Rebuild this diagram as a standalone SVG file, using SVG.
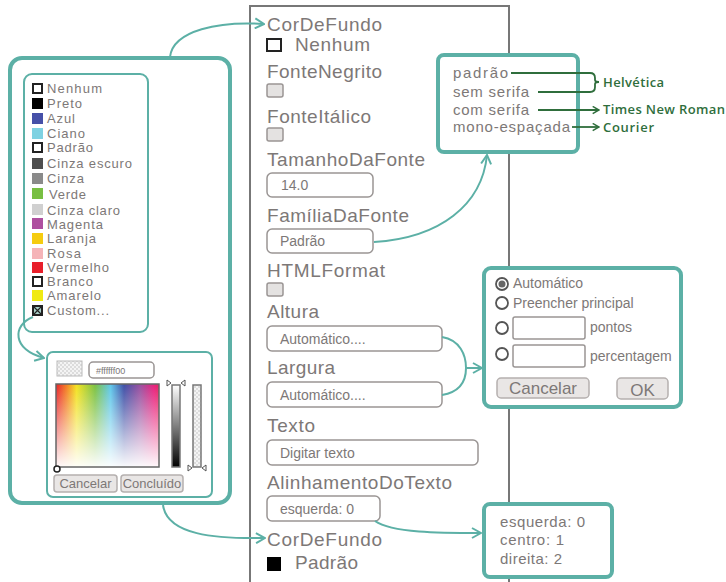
<svg xmlns="http://www.w3.org/2000/svg" width="726" height="582" viewBox="0 0 726 582">
<defs>
<style>
.t{font-family:"Liberation Sans",Arial,sans-serif;fill:#7d7877}
.lbl{font-size:19px}
.sm{font-size:14px}
.li{font-size:13px}
.box{fill:#fff;stroke:#5cb0a6;stroke-width:4}
.thin{fill:#fff;stroke:#5cb0a6;stroke-width:2}
.fld{fill:#fff;stroke:#9a9594;stroke-width:1.5}
.chk{fill:#e4e2e1;stroke:#9a9594;stroke-width:1.5}
.btn{fill:#e9e6e5;stroke:#b5b0af;stroke-width:1.5}
.con{fill:none;stroke:#5cb0a6;stroke-width:2}
.ann{fill:none;stroke:#2f6e3c;stroke-width:1.8}
.annt{font-family:"Open Sans","Noto Sans",sans-serif;font-weight:600;font-size:13px;fill:#2f6e3c}
.ow{fill:#fff;stroke:#222;stroke-width:2}
.rad{fill:#fff;stroke:#555;stroke-width:1.8}
.tri{fill:#fff;stroke:#555;stroke-width:1}
</style>
<marker id="arr" viewBox="0 0 12 12" refX="11" refY="6" markerWidth="12" markerHeight="12" markerUnits="userSpaceOnUse" orient="auto"><path d="M2,1 L11,6 L2,11" fill="none" stroke="#5cb0a6" stroke-width="2"/></marker>
<marker id="garr" viewBox="0 0 10 10" refX="9" refY="5" markerWidth="9" markerHeight="9" markerUnits="userSpaceOnUse" orient="auto"><path d="M2,1 L9,5 L2,9" fill="none" stroke="#2f6e3c" stroke-width="1.6"/></marker>
<pattern id="chkr" width="4" height="4" patternUnits="userSpaceOnUse"><rect width="4" height="4" fill="#f4f4f4"/><rect width="2" height="2" fill="#dcdcdc"/><rect x="2" y="2" width="2" height="2" fill="#dcdcdc"/></pattern>
<linearGradient id="hue" x1="0" y1="0" x2="1" y2="0">
<stop offset="0" stop-color="#e8202a"/><stop offset="0.1" stop-color="#f27d22"/><stop offset="0.2" stop-color="#f3e21e"/><stop offset="0.38" stop-color="#7bc142"/><stop offset="0.53" stop-color="#5ec7ea"/><stop offset="0.66" stop-color="#3f4fa6"/><stop offset="0.82" stop-color="#9b4f9f"/><stop offset="0.95" stop-color="#e8217d"/><stop offset="1" stop-color="#e62064"/>
</linearGradient>
<linearGradient id="fade" x1="0" y1="0" x2="0" y2="1"><stop offset="0" stop-color="#fff" stop-opacity="0"/><stop offset="1" stop-color="#fff" stop-opacity="0.97"/></linearGradient>
<linearGradient id="bw" x1="0" y1="0" x2="0" y2="1"><stop offset="0" stop-color="#fff"/><stop offset="1" stop-color="#000"/></linearGradient>
</defs>
<rect width="726" height="582" fill="#fff"/>

<!-- property panel -->
<g id="panel">
<path d="M250,582 V6 H509 V582" fill="none" stroke="#777" stroke-width="2"/>
<text class="t lbl" x="267" y="31" textLength="115">CorDeFundo</text>
<rect class="ow" x="267" y="39" width="14" height="12"/>
<text class="t lbl" x="295" y="51" textLength="75">Nenhum</text>
<text class="t lbl" x="267" y="78" textLength="115">FonteNegrito</text>
<rect class="chk" x="267" y="84" width="16" height="13" rx="2"/>
<text class="t lbl" x="267" y="123" textLength="104">FonteItálico</text>
<rect class="chk" x="267" y="128" width="16" height="13" rx="2"/>
<text class="t lbl" x="267" y="166" textLength="158">TamanhoDaFonte</text>
<rect class="fld" x="267" y="173" width="106" height="24" rx="5"/>
<text class="t sm" x="281" y="190">14.0</text>
<text class="t lbl" x="267" y="222" textLength="142">FamíliaDaFonte</text>
<rect class="fld" x="267" y="229" width="106" height="24" rx="5"/>
<text class="t sm" x="280" y="246">Padrão</text>
<text class="t lbl" x="267" y="277" textLength="118">HTMLFormat</text>
<rect class="chk" x="267" y="283" width="16" height="13" rx="2"/>
<text class="t lbl" x="267" y="318" textLength="52">Altura</text>
<rect class="fld" x="267" y="326" width="175" height="25" rx="5"/>
<text class="t sm" x="280" y="344">Automático....</text>
<text class="t lbl" x="267" y="374" textLength="68">Largura</text>
<rect class="fld" x="267" y="382" width="175" height="25" rx="5"/>
<text class="t sm" x="280" y="400">Automático....</text>
<text class="t lbl" x="267" y="432" textLength="48">Texto</text>
<rect class="fld" x="267" y="440" width="211" height="25" rx="5"/>
<text class="t sm" x="280" y="458">Digitar texto</text>
<text class="t lbl" x="267" y="489" textLength="185">AlinhamentoDoTexto</text>
<rect class="fld" x="267" y="496" width="113" height="25" rx="5"/>
<text class="t sm" x="280" y="514">esquerda: 0</text>
<text class="t lbl" x="267" y="546" textLength="115">CorDeFundo</text>
<rect x="267" y="557" width="14" height="14" fill="#000"/>
<text class="t lbl" x="295" y="569" textLength="63">Padrão</text>
</g>

<!-- colour chooser -->
<g id="colorChooser">
<rect class="box" x="10" y="58" width="220" height="445" rx="12"/>
</g>

<g id="colorList">
<rect class="thin" x="24" y="74" width="124" height="258" rx="8"/>
<rect class="ow" x="33" y="84" width="9" height="9"/><text class="t li" x="47" y="93" textLength="55">Nenhum</text>
<rect x="32" y="98" width="11" height="11" fill="#000"/><text class="t li" x="47" y="108" textLength="35">Preto</text>
<rect x="32" y="113" width="11" height="11" fill="#4650a8"/><text class="t li" x="47" y="123" textLength="28">Azul</text>
<rect x="32" y="128" width="11" height="11" fill="#7fd2e2"/><text class="t li" x="47" y="138" textLength="38">Ciano</text>
<rect class="ow" x="33" y="143" width="9" height="9"/><text class="t li" x="47" y="152" textLength="46">Padrão</text>
<rect x="32" y="158" width="11" height="11" fill="#4e4e4e"/><text class="t li" x="47" y="168" textLength="85">Cinza escuro</text>
<rect x="32" y="173" width="11" height="11" fill="#8a8a8a"/><text class="t li" x="47" y="183" textLength="37">Cinza</text>
<rect x="32" y="188" width="11" height="11" fill="#78bf42"/><text class="t li" x="49" y="199" textLength="37">Verde</text>
<rect x="32" y="204" width="11" height="11" fill="#d0d0d0"/><text class="t li" x="47" y="215" textLength="73">Cinza claro</text>
<rect x="32" y="218" width="11" height="11" fill="#ae4f9f"/><text class="t li" x="47" y="229" textLength="56">Magenta</text>
<rect x="32" y="233" width="11" height="11" fill="#f5cc10"/><text class="t li" x="47" y="243" textLength="49">Laranja</text>
<rect x="32" y="248" width="11" height="11" fill="#f5b4b8"/><text class="t li" x="47" y="258" textLength="34">Rosa</text>
<rect x="32" y="262" width="11" height="11" fill="#e81e2a"/><text class="t li" x="47" y="272" textLength="62">Vermelho</text>
<rect class="ow" x="33" y="277" width="9" height="9"/><text class="t li" x="47" y="286" textLength="46">Branco</text>
<rect x="32" y="290" width="11" height="11" fill="#f0ea12"/><text class="t li" x="47" y="300" textLength="54">Amarelo</text>
<rect x="33" y="306" width="9" height="9" fill="#a9cfc8" stroke="#222" stroke-width="2"/>
<path d="M34,307 L41,314 M41,307 L34,314" stroke="#222" stroke-width="1.2"/>
<text class="t li" x="47" y="315" textLength="62">Custom...</text>
</g>

<g id="colorPicker">
<rect class="thin" x="47" y="352" width="165" height="145" rx="6"/>
<rect x="57" y="361" width="25" height="15" fill="url(#chkr)" stroke="#bbb" stroke-width="1"/>
<rect class="fld" x="89" y="362" width="65" height="16" rx="4"/>
<text class="t" x="96" y="374" font-size="9">#ffffff00</text>
<rect x="56" y="384" width="103" height="83" fill="url(#hue)"/>
<rect x="56" y="384" width="103" height="83" fill="url(#fade)" stroke="#666" stroke-width="1.5"/>
<circle cx="57" cy="469" r="3" fill="#fff" stroke="#222" stroke-width="1.5"/>
<rect x="172" y="385" width="8" height="82" fill="url(#bw)" stroke="#777" stroke-width="1.5"/>
<path class="tri" d="M167,380 L171,383 L167,386 Z M185,380 L181,383 L185,386 Z"/>
<rect x="193" y="385" width="8" height="82" fill="url(#chkr)" stroke="#777" stroke-width="1.5"/>
<path class="tri" d="M188,465 L192,468 L188,471 Z M206,465 L202,468 L206,471 Z"/>
<rect class="btn" x="54" y="475" width="63" height="17" rx="3"/>
<text class="t" x="85.5" y="488" font-size="13" text-anchor="middle">Cancelar</text>
<rect class="btn" x="121" y="475" width="62" height="17" rx="3"/>
<text class="t" x="152" y="488" font-size="13" text-anchor="middle">Concluído</text>
</g>

<!-- font family options -->
<g id="fontFamilies">
<rect class="box" x="438" y="55" width="140" height="97" rx="6"/>
<text class="t" x="453" y="78" font-size="15" textLength="55">padrão</text>
<text class="t" x="453" y="97" font-size="15" textLength="76">sem serifa</text>
<text class="t" x="453" y="115" font-size="15" textLength="76">com serifa</text>
<text class="t" x="453" y="132" font-size="15" textLength="117">mono-espaçada</text>
</g>

<g id="fontNames">
<path class="ann" d="M511,73 H590 Q595,73 595,78 V80 Q595,82 599,82 Q595,82 595,84 V87 Q595,92 590,92 H538"/>
<path class="ann" d="M538,110 H599" marker-end="url(#garr)"/>
<path class="ann" d="M572,127 H599" marker-end="url(#garr)"/>
<text class="annt" x="603" y="87" textLength="61">Helvética</text>
<text class="annt" x="603" y="114" textLength="122">Times New Roman</text>
<text class="annt" x="603" y="132" textLength="51">Courier</text>
</g>

<!-- size dialog -->
<g id="sizeDialog">
<rect class="box" x="484" y="268" width="197" height="139" rx="7"/>
<circle class="rad" cx="502" cy="284" r="6"/><circle cx="502" cy="284" r="3.5" fill="#666"/>
<text class="t" x="513" y="288" font-size="14">Automático</text>
<circle class="rad" cx="502" cy="303" r="6"/>
<text class="t" x="513" y="308" font-size="14">Preencher principal</text>
<circle class="rad" cx="502" cy="328" r="6"/>
<rect class="fld" x="513" y="317" width="72" height="22" rx="2"/>
<text class="t" x="590" y="332" font-size="14">pontos</text>
<circle class="rad" cx="502" cy="354" r="6"/>
<rect class="fld" x="513" y="345" width="72" height="22" rx="2"/>
<text class="t" x="590" y="361" font-size="14">percentagem</text>
<rect class="btn" x="497" y="378" width="92" height="20" rx="4"/>
<text class="t" x="543" y="394" font-size="17" text-anchor="middle">Cancelar</text>
<rect class="btn" x="617" y="378" width="51" height="21" rx="4"/>
<text class="t" x="642.5" y="396" font-size="17" text-anchor="middle">OK</text>
</g>

<!-- alignment values -->
<g id="alignValues">
<rect class="box" x="484" y="504" width="128" height="73" rx="6"/>
<text class="t" x="500" y="527" font-size="15" textLength="85">esquerda: 0</text>
<text class="t" x="500" y="545" font-size="15" textLength="64">centro: 1</text>
<text class="t" x="500" y="564" font-size="15" textLength="62">direita: 2</text>
</g>

<!-- connectors -->
<g id="connectors">
<path class="con" d="M170,57 C173,30 220,21 264,24" marker-end="url(#arr)"/>
<path class="con" d="M163,505 C167,535 215,539 265,538" marker-end="url(#arr)"/>
<path class="con" d="M33,317 C12,325 12,350 44,358" marker-end="url(#arr)"/>
<path class="con" d="M374,242 C440,238 482,205 487,155" marker-end="url(#arr)"/>
<path class="con" d="M442,337 C460,340 466,355 466,368 M442,395 C460,392 466,381 466,368 M466,368 H482" marker-end="url(#arr)"/>
<path class="con" d="M375,521 C392,533 440,533 481,533" marker-end="url(#arr)"/>
</g>
</svg>
